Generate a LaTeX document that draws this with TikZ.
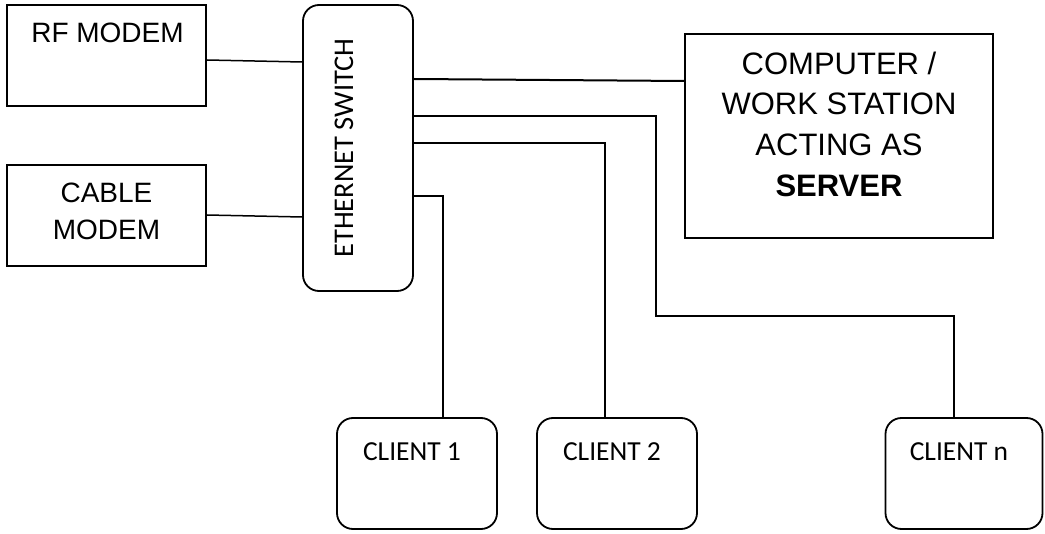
\documentclass[tikz,border=0pt]{standalone}
\usepackage{fontspec}
\setmainfont{Liberation Sans}
\newfontfamily\calfont{Carlito}
\begin{document}
\begin{tikzpicture}[x=1pt,y=-1pt,
  box/.style={draw, line width=1.8pt, inner sep=0pt},
  rbox/.style={box, rounded corners=16pt},
  arial/.style={font=\fontsize{28}{37}\selectfont, inner sep=0pt},
  srvtext/.style={font=\fontsize{31}{41}\selectfont, inner sep=0pt},
  calib/.style={font=\calfont\fontsize{27.5}{33}\selectfont, inner sep=0pt},
  thin/.style={line width=1.5pt},
  thick/.style={line width=2.8pt}]
\useasboundingbox (0,0) rectangle (1045,534);
% boxes
\node[box, minimum width=199pt, minimum height=101pt] (rf) at (106.5,55.5) {};
\node[box, minimum width=199pt, minimum height=101pt] (cm) at (106.5,215.5) {};
\node[rbox, minimum width=110pt, minimum height=286pt] (sw) at (358,148) {};
\node[box, minimum width=308pt, minimum height=204pt] (srv) at (839,136) {};
\node[rbox, minimum width=160pt, minimum height=111pt] (c1) at (417,473.5) {};
\node[rbox, minimum width=160pt, minimum height=111pt] (c2) at (617,473.5) {};
\node[rbox, minimum width=157pt, minimum height=111pt] (cn) at (964,473.5) {};
% texts
\node[arial, anchor=base] (rft) at (107.5,43) {RF MODEM};
\node[arial, anchor=base] (cmt1) at (106.5,203) {CABLE};
\node[arial, anchor=base] (cmt2) at (106.5,240) {MODEM};
\node[calib, font=\calfont\fontsize{28.5}{33}\selectfont, anchor=base, rotate=90] (swt) at (353,148) {ETHERNET SWITCH};
\node[srvtext, anchor=base] (s1) at (839,75) {COMPUTER /};
\node[srvtext, anchor=base] (s2) at (839,115) {WORK STATION};
\node[srvtext, anchor=base] (s3) at (839,156) {ACTING AS};
\node[srvtext, font=\fontsize{31}{41}\selectfont\bfseries, anchor=base] (s4) at (839,197) {SERVER};
\node[calib, anchor=base] (c1t) at (412,461) {CLIENT 1};
\node[calib, anchor=base] (c2t) at (612,461) {CLIENT 2};
\node[calib, anchor=base] (cnt) at (959,461) {CLIENT n};
% connectors
\draw[thin] (rf.east |- 0,60) -- (sw.west |- 0,62);
\draw[thin] (cm.east |- 0,215) -- (sw.west |- 0,217);
\draw[line width=2pt] (sw.east |- 0,79) -- (srv.west |- 0,81);
\draw[thick] (sw.east |- 0,116) -| (656,316) -| ([xshift=-10pt]cn.north);
\draw[thick] (sw.east |- 0,143) -| ([xshift=-12pt]c2.north);
\draw[thick] (sw.east |- 0,196) -| ([xshift=26pt]c1.north);
\end{tikzpicture}
\end{document}
